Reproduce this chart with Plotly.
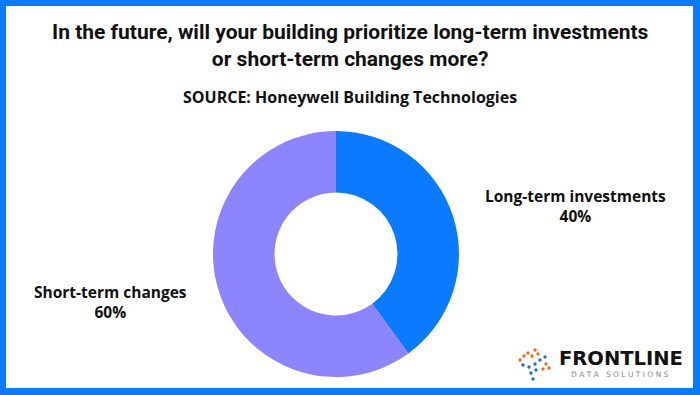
import plotly.graph_objects as go

categories = ["Long-term investments", "Short-term changes"]
values = [40, 60]
colors = ["#0A7BFF", "#8C85FF"]

W, H = 700, 395
def px(x): return x / W
def py(y): return 1 - y / H

fig = go.Figure()
fig.add_trace(go.Pie(
    labels=categories, values=values, hole=0.5, sort=False, direction="clockwise",
    rotation=0, marker=dict(colors=colors, line=dict(width=0)),
    textinfo="none", hoverinfo="label+percent", showlegend=False,
    domain=dict(x=[px(213), px(459)], y=[py(377), py(131)]),
))

shapes = [
    dict(type="rect", xref="paper", yref="paper", x0=px(6), x1=px(693), y0=py(388), y1=py(6),
         fillcolor="white", line=dict(width=0), layer="below"),
]

def A(text, x, y, size, family="Open Sans", color="#111111", **kw):
    return dict(text=text, x=px(x), y=py(y), xref="paper", yref="paper", showarrow=False,
                xanchor="center", yanchor="middle", align="center",
                font=dict(family=family, size=size, color=color), **kw)

ann = []
ann.append(A("<b>In the future, will your building prioritize long-term investments<br>or short-term changes more?</b>",
             350, 46, 21, family="Roboto"))
ann.append(A("<b>SOURCE: Honeywell Building Technologies</b>", 350, 97, 16))
total = sum(values)
label_pos = [(575, 206), (111, 302)]
for c, v, (lx, ly) in zip(categories, values, label_pos):
    ann.append(A(f"<b>{c}<br>{round(100*v/total)}%</b>", lx, ly, 15.5))
# logo
ann.append(A("<b>FRONTLINE</b>", 621, 358, 19.5, family="DejaVu Sans"))
ann.append(A("D A T A   S O L U T I O N S", 620, 374, 7.5, family="DejaVu Sans", color="#888888"))
dots = [(520, 360, "#F26A21"), (524, 356, "#F26A21"), (528, 353, "#F26A21"), (532, 356, "#F26A21"),
        (535, 350, "#F26A21"), (538, 354, "#F26A21"), (523, 365, "#1E6FD0"), (529, 367, "#1E6FD0"),
        (535, 364, "#1E6FD0"), (540, 360, "#1E6FD0"), (545, 357, "#1E6FD0"), (531, 373, "#1E6FD0"),
        (536, 370, "#1E6FD0"), (533, 379, "#1E6FD0"), (546, 364, "#F26A21"), (549, 368, "#F26A21"),
        (543, 369, "#F26A21")]
for x, y, c in dots:
    shapes.append(dict(type="circle", xref="paper", yref="paper", x0=px(x - 1.7), x1=px(x + 1.7),
                       y0=py(y + 1.7), y1=py(y - 1.7), fillcolor=c, line=dict(width=0)))

fig.update_layout(
    width=W, height=H, margin=dict(l=0, r=0, t=0, b=0),
    paper_bgcolor="#0A7BFF", plot_bgcolor="white",
    shapes=shapes, annotations=ann,
)
fig.write_html("out.html", config={"displayModeBar": False},
               post_script="document.body.style.margin='0';document.body.style.overflow='hidden';")
